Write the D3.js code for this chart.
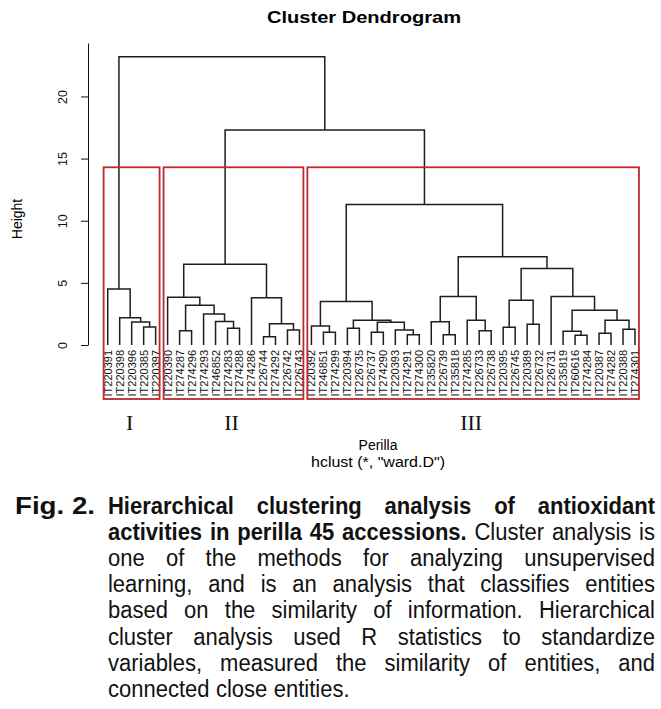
<!DOCTYPE html>
<html>
<head>
<meta charset="utf-8">
<script src="https://cdn.jsdelivr.net/npm/d3@7"></script>
<style>
  body { margin: 0; background: #fff; }
  svg { display: block; }
</style>
</head>
<body>
<div id="viz"></div>
<script>
// leaves in the order they are drawn, left to right
const leafLabels = [
  "IT220391", "IT220398", "IT220396", "IT220385", "IT220397",
  "IT220390", "IT274287", "IT274296", "IT274293", "IT246852", "IT274283",
  "IT274288", "IT274286", "IT226744", "IT274292", "IT226742", "IT226743",
  "IT220392", "IT246851", "IT274299", "IT220394", "IT226735", "IT226737",
  "IT274290", "IT220393", "IT274291", "IT274300", "IT235820", "IT226739",
  "IT235818", "IT274285", "IT226733", "IT226738", "IT220395", "IT226745",
  "IT220389", "IT226732", "IT226731", "IT235819", "IT260616", "IT274284",
  "IT220387", "IT274282", "IT220388", "IT274301"
];

// hclust style merge table: negative = leaf (1-based position), positive = earlier row
const merges = [
  [-4, -5], [-3, 1], [-2, 2], [-1, 3],
  [-7, -8], [-11, -12], [-10, 6], [-9, 7], [5, 8], [-6, 9],
  [-14, -15], [-16, -17], [11, 12], [-13, 13], [10, 14],
  [-19, -20], [-18, 16], [-21, -22], [-23, -24], [-26, -27], [-25, 20],
  [19, 21], [18, 22], [17, 23],
  [-29, -30], [-28, 25], [-32, -33], [-31, 27], [26, 28],
  [-34, -35], [-36, -37], [30, 31],
  [-40, -41], [-39, 33], [-42, -43], [-44, -45], [35, 36], [34, 37], [-38, 38],
  [32, 39], [29, 40], [24, 41], [15, 42], [4, 43]
];
const mergeHeights = [
  1.45, 1.85, 2.2, 4.5,
  1.15, 1.35, 1.9, 2.5, 3.2, 3.85,
  0.67, 1.2, 1.7, 3.8, 6.5,
  1.02, 1.53, 1.35, 1.02, 0.83, 1.2,
  1.83, 2.0, 3.5,
  0.83, 1.88, 1.15, 2.0, 3.9,
  1.43, 1.67, 3.6,
  0.78, 1.1, 0.94, 1.27, 2.0, 2.8, 3.9,
  6.15, 7.1, 11.3, 17.3, 23.2
];

const yTicks = [0, 5, 10, 15, 20];
const clusterNames = ["I", "II", "III"];

const captionLines = [
  "Fig. 2. Hierarchical clustering analysis of antioxidant",
  "activities in perilla 45 accessions. Cluster analysis is",
  "one of the methods for analyzing unsupervised",
  "learning, and is an analysis that classifies entities",
  "based on the similarity of information. Hierarchical",
  "cluster analysis used R statistics to standardize",
  "variables, measured the similarity of entities, and",
  "connected close entities."
];
const captionBold = [7, 5, 0, 0, 0, 0, 0, 0];

const width = 661;
const height = 709;
const chartFont = "'Liberation Sans', Arial, sans-serif";

const svg = d3.select("#viz")
  .append("svg")
  .attr("width", width)
  .attr("height", height)
  .style("background", "#fff");

const x = d3.scaleLinear().domain([1, leafLabels.length]).range([107.7, 635]);
const y = d3.scaleLinear().domain([0, 24.3]).range([345, 43]);

// position of each merge = midpoint of its two children
const mergeX = [];
const posOf = c => c < 0 ? -c : mergeX[c - 1];
const hOf = c => c < 0 ? 0 : mergeHeights[c - 1];
merges.forEach((m, i) => { mergeX[i] = (posOf(m[0]) + posOf(m[1])) / 2; });

svg.append("g")
  .selectAll("path")
  .data(merges)
  .enter()
  .append("path")
  .attr("d", (m, i) => {
    const h = mergeHeights[i];
    return "M" + x(posOf(m[0])) + "," + y(hOf(m[0])) +
      "V" + y(h) + "H" + x(posOf(m[1])) + "V" + y(hOf(m[1]));
  })
  .attr("fill", "none")
  .attr("stroke", "#1e1e1e")
  .attr("stroke-width", 1.5);

// leaf labels
svg.append("g")
  .selectAll("text")
  .data(leafLabels)
  .enter()
  .append("text")
  .attr("transform", (d, i) => "translate(" + x(i + 1) + ",350) rotate(-90)")
  .attr("text-anchor", "end")
  .attr("dy", "0.36em")
  .attr("font-family", chartFont)
  .attr("font-size", 11)
  .attr("fill", "#111")
  .text(d => d);

// y axis
const gy = svg.append("g")
  .attr("transform", "translate(88,0)")
  .call(d3.axisLeft(y).tickValues(yTicks).tickSize(7).tickSizeOuter(0));
gy.attr("font-family", chartFont).attr("font-size", 12.5);
gy.selectAll("path, line").attr("stroke", "#111");
gy.selectAll(".tick text")
  .attr("x", 0)
  .attr("y", -21)
  .attr("dy", 0)
  .attr("transform", "rotate(-90)")
  .attr("text-anchor", "middle")
  .attr("fill", "#111");

// cut the tree into 3 groups like rect.hclust
const m = merges.length;
const cutH = (mergeHeights[m - 3] + mergeHeights[m - 2]) / 2;
const leafRange = c => {
  if (c < 0) return [-c, -c];
  const a = leafRange(merges[c - 1][0]), b = leafRange(merges[c - 1][1]);
  return [Math.min(a[0], b[0]), Math.max(a[1], b[1])];
};
const groups = [];
const collect = c => {
  if (c > 0 && mergeHeights[c - 1] > cutH) merges[c - 1].forEach(collect);
  else groups.push(leafRange(c));
};
collect(m);
groups.sort((a, b) => a[0] - b[0]);

svg.append("g")
  .selectAll("rect")
  .data(groups)
  .enter()
  .append("rect")
  .attr("x", d => x(d[0] - 0.34))
  .attr("y", y(cutH))
  .attr("width", d => x(d[1] + 0.33) - x(d[0] - 0.34))
  .attr("height", 399 - y(cutH))
  .attr("fill", "none")
  .attr("stroke", "#c0282d")
  .attr("stroke-width", 1.8);

svg.append("g")
  .selectAll("text")
  .data(groups)
  .enter()
  .append("text")
  .attr("x", d => (x(d[0] - 0.34) + x(d[1] + 0.33)) / 2 - 2)
  .attr("y", 430)
  .attr("text-anchor", "middle")
  .attr("font-family", "'Liberation Serif', 'Times New Roman', serif")
  .attr("font-size", 22)
  .attr("fill", "#111")
  .text((d, i) => clusterNames[i]);

// titles
svg.append("text")
  .attr("x", 364).attr("y", 23)
  .attr("text-anchor", "middle")
  .attr("font-family", chartFont)
  .attr("font-weight", "bold")
  .attr("font-size", 17)
  .attr("textLength", 194)
  .attr("lengthAdjust", "spacingAndGlyphs")
  .text("Cluster Dendrogram");

svg.append("text")
  .attr("transform", "translate(22,219) rotate(-90)")
  .attr("text-anchor", "middle")
  .attr("font-family", chartFont)
  .attr("font-size", 14)
  .text("Height");

svg.append("text")
  .attr("x", 378).attr("y", 450)
  .attr("text-anchor", "middle")
  .attr("font-family", chartFont)
  .attr("font-size", 14)
  .text("Perilla");

svg.append("text")
  .attr("x", 378).attr("y", 467)
  .attr("text-anchor", "middle")
  .attr("font-family", chartFont)
  .attr("font-size", 14)
  .attr("textLength", 134)
  .attr("lengthAdjust", "spacingAndGlyphs")
  .text("hclust (*, \"ward.D\")");

// caption, justified with a hanging indent
const caption = svg.append("g")
  .attr("font-family", chartFont)
  .attr("font-size", 22)
  .attr("fill", "#111");

const leftX = 15, indentX = 108, rightX = 655;
captionLines.forEach((line, i) => {
  let words = line.split(" ");
  // glyphs in the figure are a little taller than Arial's
  const t = caption.append("text")
    .attr("transform", "translate(0," + (514 + i * 26.1) + ") scale(1,1.1)");
  let bold = captionBold[i];
  if (i === 0) {
    t.append("tspan")
      .attr("x", leftX)
      .attr("font-weight", "bold")
      .attr("textLength", 80)
      .attr("lengthAdjust", "spacingAndGlyphs")
      .text(words.slice(0, 2).join(" "));
    words = words.slice(2);
    bold -= 2;
  }
  const spans = words.map((w, j) => t.append("tspan")
    .attr("font-weight", j < bold ? "bold" : "normal")
    .text(w));
  const widths = spans.map(s => s.node().getComputedTextLength());
  const last = i === captionLines.length - 1;
  const gap = last ? 6.5 : (rightX - indentX - d3.sum(widths)) / (words.length - 1);
  let pos = indentX;
  spans.forEach((s, j) => { s.attr("x", pos); pos += widths[j] + gap; });
});
</script>
</body>
</html>
